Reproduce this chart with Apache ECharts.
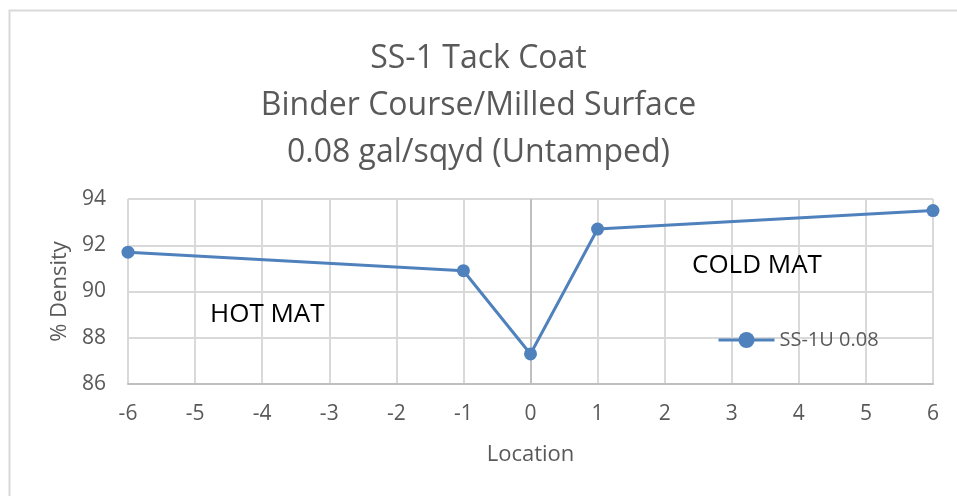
<!DOCTYPE html>
<html>
<head>
<meta charset="utf-8">
<script src="https://cdn.jsdelivr.net/npm/echarts@6/dist/echarts.min.js"></script>
<style>
  html, body { margin: 0; padding: 0; background: #fff; }
  #chart { width: 957px; height: 496px; }
</style>
</head>
<body>
<div id="chart"></div>
<script>
var titleLines = ['SS-1 Tack Coat', 'Binder Course/Milled Surface', '0.08 gal/sqyd (Untamped)'];
var locations = [-6, -1, 0, 1, 6];
var density = [91.7, 90.9, 87.3, 92.7, 93.5];
var seriesName = 'SS-1U 0.08';

var textColor = '#595959';
var font = 'Open Sans';

var myChart = echarts.init(document.getElementById('chart'));

var points = locations.map(function (x, i) { return [x, density[i]]; });

var option = {
    animation: false,
    textStyle: { fontFamily: font },
    title: {
        text: titleLines.join('\n'),
        left: 'center',
        top: 30,
        textStyle: { color: textColor, fontSize: 32, fontWeight: 'normal', lineHeight: 47, fontFamily: font }
    },
    grid: { left: 128, right: 24, top: 199, bottom: 112 },
    legend: {
        left: 717, top: 330,
        padding: 0,
        itemWidth: 56, itemHeight: 20,
        lineStyle: { width: 3 },
        textStyle: { color: textColor, fontSize: 20, fontFamily: font },
        data: [seriesName]
    },
    xAxis: {
        type: 'value', min: -6, max: 6, interval: 1,
        name: 'Location', nameLocation: 'middle', nameGap: 60,
        nameTextStyle: { color: textColor, fontSize: 22 },
        axisLine: { show: true, onZero: false, lineStyle: { color: '#bfbfbf', width: 2 } },
        axisTick: { show: false },
        axisLabel: { color: textColor, fontSize: 21, margin: 20 },
        splitLine: { show: true, lineStyle: { color: '#d9d9d9', width: 2 } }
    },
    yAxis: {
        type: 'value', min: 86, max: 94, interval: 2,
        name: '% Density', nameLocation: 'middle', nameGap: 56,
        nameTextStyle: { color: textColor, fontSize: 22 },
        axisLine: { show: false },
        axisTick: { show: false },
        axisLabel: { color: textColor, fontSize: 21, margin: 22 },
        splitLine: { show: true, lineStyle: { color: '#d9d9d9', width: 2 } }
    },
    graphic: [
        { type: 'rect', left: 7, top: 8, shape: { width: 960, height: 500 },
          style: { fill: 'none', stroke: '#d9d9d9', lineWidth: 2 }, silent: true },
        { type: 'text', left: 210, top: 302, z: 100, style: { text: 'HOT MAT', fill: '#000', font: '26px "Open Sans"' } },
        { type: 'text', left: 692, top: 253, z: 100, style: { text: 'COLD MAT', fill: '#000', font: '26px "Open Sans"' } }
    ],
    series: [{
        name: seriesName,
        type: 'line',
        data: points,
        symbol: 'circle',
        symbolSize: 13,
        itemStyle: { color: '#4f81bd' },
        lineStyle: { color: '#4f81bd', width: 3 },
        markLine: {
            silent: true,
            symbol: 'none',
            label: { show: false },
            lineStyle: { color: '#bfbfbf', width: 2, type: 'solid' },
            data: [{ xAxis: 0 }]
        },
        z: 5
    }]
};

myChart.setOption(option);
</script>
</body>
</html>
